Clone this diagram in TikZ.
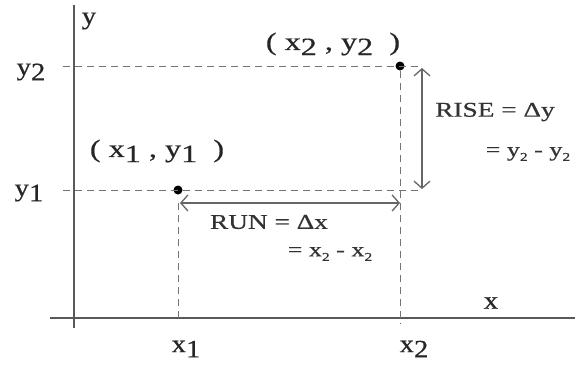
\documentclass[tikz,border=0pt]{standalone}
\usepackage{fontspec}
\setmainfont{Liberation Serif}[FakeBold=0.5]
\usetikzlibrary{arrows.meta}
\newcommand{\lowsub}[1]{\raisebox{-0.45ex}{#1}}
\newcommand{\smallsub}[1]{\raisebox{-0.5ex}{\scalebox{0.6}{#1}}}
\tikzset{
  axisline/.style={draw=black!65, line width=1.4pt},
  guide/.style={draw=black!55, line width=0.9pt, dash pattern=on 7pt off 5pt},
  dimarrow/.style={draw=black!60, line width=1.3pt, {Straight Barb[length=7pt,width=16pt]}-{Straight Barb[length=7pt,width=16pt]}},
  pt/.style={circle, fill=black, inner sep=0pt, minimum size=9pt},
  big/.style={text=black!85, font=\fontsize{25}{30}\selectfont, inner sep=0pt, xscale=1.15},
  mid/.style={text=black!80, font=\fontsize{21}{25}\selectfont, inner sep=0pt, xscale=1.3},
  sml/.style={text=black!80, font=\fontsize{20}{24}\selectfont, inner sep=0pt, xscale=1.3},
}
\begin{document}
\begin{tikzpicture}[x=1pt,y=-1pt]
\useasboundingbox (0,0) rectangle (578,368);
% axes
\coordinate (ytop) at (74,5);
\coordinate (ybot) at (74,328);
\coordinate (xleft) at (50,318);
\coordinate (xright) at (575,318);
\draw[axisline] (ytop) -- (ybot);
\draw[axisline] (xleft) -- (xright);
% points
\node[pt] (p1) at (178,190) {};
\node[pt] (p2) at (400,66) {};
% guide coordinates
\coordinate (g2l) at (63,66);
\coordinate (g2r) at (420,66);
\coordinate (g1l) at (63,190);
\coordinate (g1r) at (420,190);
\coordinate (v1t) at (178,203);
\coordinate (v1b) at (178,323);
\coordinate (v2b) at (400,323);
\draw[guide] (g2l) -- (g2r);
\draw[guide] (g1l) -- (g1r);
\draw[guide] (v1t) -- (v1b);
\draw[guide] (p2) -- (v2b);
% arrows
\coordinate (runl) at (180,203);
\coordinate (runr) at (400,203);
\coordinate (riset) at (422,68);
\coordinate (riseb) at (422,189);
\draw[dimarrow] (runl) -- (runr);
\draw[dimarrow] (riset) -- (riseb);
% labels
\node[big] (ylab) at (89,21) {y};
\node[big] (xlab) at (491,303) {x};
\node[big] (y2lab) at (31,72) {y\lowsub{2}};
\node[big] (y1lab) at (29,193) {y\lowsub{1}};
\node[big] (x1lab) at (186,349) {x\lowsub{1}};
\node[big] (x2lab) at (414,349) {x\lowsub{2}};
\node[big, xscale=1.12] (p1lab) at (157,151) {( x\lowsub{1} , y\lowsub{1}\ \ )};
\node[big, xscale=1.12] (p2lab) at (333,44) {( x\lowsub{2} , y\lowsub{2}\ \ )};
\node[mid] (rise1) at (495,112) {RISE = Δy};
\node[sml] (rise2) at (528,154) {= y\smallsub{2} - y\smallsub{2}};
\node[mid] (run1) at (269,222) {RUN = Δx};
\node[sml] (run2) at (330,254) {= x\smallsub{2} - x\smallsub{2}};
\end{tikzpicture}
\end{document}
